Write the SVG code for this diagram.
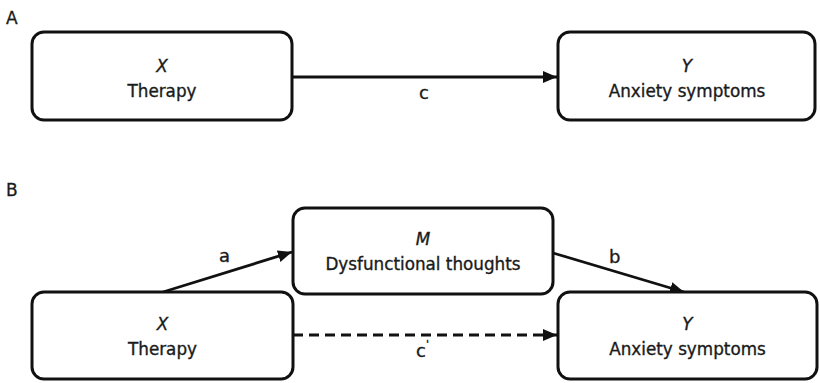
<svg xmlns="http://www.w3.org/2000/svg" width="820" height="383" viewBox="0 0 820 383">
<style>
.box{fill:#fff;stroke:#111;stroke-width:3}
.t{font-family:"DejaVu Sans",sans-serif;font-size:16.8px;fill:#1a1a1a;stroke:#1a1a1a;stroke-width:0.35;text-anchor:middle}
.v{font-style:italic}
.lbl{font-family:"DejaVu Sans",sans-serif;font-size:18px;fill:#1a1a1a;stroke:#1a1a1a;stroke-width:0.35}
.panel{font-family:"DejaVu Sans",sans-serif;font-size:17px;fill:#1a1a1a;stroke:#1a1a1a;stroke-width:0.3}
.edge{fill:none;stroke:#111;stroke-width:2.8}
.dash{stroke-dasharray:10 6}
</style>
<defs>
<marker id="ah" markerUnits="userSpaceOnUse" markerWidth="16" markerHeight="14" refX="14" refY="7" orient="auto">
<path d="M0,1 L14,7 L0,13 z" fill="#111"/>
</marker>
</defs>
<text class="panel" x="6" y="24">A</text>
<text class="panel" x="6" y="196">B</text>
<g id="connectors">
<line class="edge" x1="292" y1="77" x2="557" y2="77" marker-end="url(#ah)"/>
<line class="edge" x1="163" y1="292" x2="292" y2="252" marker-end="url(#ah)"/>
<line class="edge" x1="553" y1="253" x2="684" y2="292" marker-end="url(#ah)"/>
<line class="edge dash" x1="293" y1="335" x2="557" y2="335" marker-end="url(#ah)"/>
<text class="lbl" x="419" y="99">c</text>
<text class="lbl" x="219" y="262">a</text>
<text class="lbl" x="609" y="263">b</text>
<text class="lbl" x="416" y="357">c<tspan font-size="11" dy="-9">'</tspan></text>
</g>
<g id="A_X">
<rect class="box" x="32" y="32" width="260" height="88" rx="12"/>
<text class="t v" x="162" y="72">X</text>
<text class="t" x="162" y="97">Therapy</text>
</g>
<g id="A_Y">
<rect class="box" x="558" y="32" width="257" height="88" rx="12"/>
<text class="t v" x="687" y="72">Y</text>
<text class="t" x="687" y="97">Anxiety symptoms</text>
</g>
<g id="B_M">
<rect class="box" x="293" y="208" width="260" height="86" rx="12"/>
<text class="t v" x="423" y="245">M</text>
<text class="t" x="423" y="270">Dysfunctional thoughts</text>
</g>
<g id="B_X">
<rect class="box" x="32" y="292" width="261" height="87" rx="12"/>
<text class="t v" x="162.5" y="330">X</text>
<text class="t" x="162.5" y="355">Therapy</text>
</g>
<g id="B_Y">
<rect class="box" x="558" y="292" width="259" height="87" rx="12"/>
<text class="t v" x="687.5" y="330">Y</text>
<text class="t" x="687.5" y="355">Anxiety symptoms</text>
</g>
</svg>
